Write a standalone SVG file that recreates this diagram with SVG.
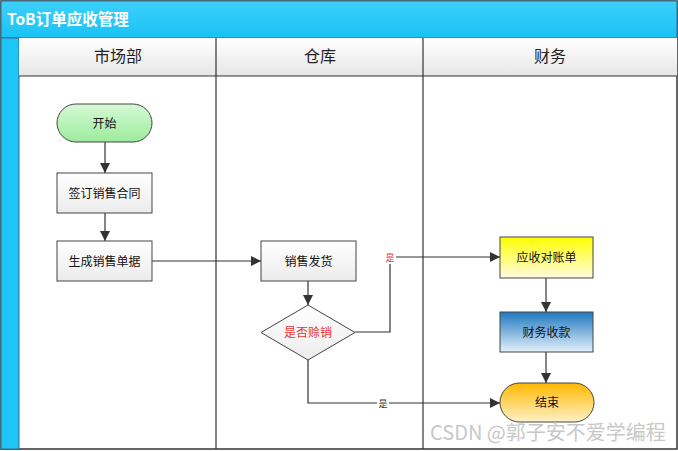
<svg xmlns="http://www.w3.org/2000/svg" width="678" height="451" viewBox="0 0 678 451">
<defs>
<linearGradient id="gTitle" x1="0" y1="0" x2="0" y2="1"><stop offset="0" stop-color="#3dd0fb"/><stop offset="1" stop-color="#19c2f5"/></linearGradient>
<linearGradient id="gHead" x1="0" y1="0" x2="0" y2="1"><stop offset="0" stop-color="#ffffff"/><stop offset="1" stop-color="#e6e6e6"/></linearGradient>
<linearGradient id="gBox" x1="0" y1="0" x2="0" y2="1"><stop offset="0" stop-color="#ffffff"/><stop offset="1" stop-color="#ebebeb"/></linearGradient>
<linearGradient id="gGreen" x1="0" y1="0" x2="0" y2="1"><stop offset="0" stop-color="#d6f9d6"/><stop offset="1" stop-color="#9ceb9c"/></linearGradient>
<linearGradient id="gYellow" x1="0" y1="0" x2="0" y2="1"><stop offset="0" stop-color="#ffff00"/><stop offset="1" stop-color="#fffbe0"/></linearGradient>
<linearGradient id="gBlue" x1="0" y1="0" x2="0" y2="1"><stop offset="0" stop-color="#1f78c0"/><stop offset="1" stop-color="#e4f0fa"/></linearGradient>
<linearGradient id="gOrange" x1="0" y1="0" x2="0" y2="1"><stop offset="0" stop-color="#ffb800"/><stop offset="1" stop-color="#fff2c8"/></linearGradient>
<linearGradient id="gDia" x1="0" y1="0" x2="0" y2="1"><stop offset="0" stop-color="#ffffff"/><stop offset="1" stop-color="#ececec"/></linearGradient>
<marker id="arr" viewBox="0 0 10 10" refX="10" refY="5" markerWidth="10" markerHeight="10" markerUnits="userSpaceOnUse" orient="auto"><path d="M0,0 L10,5 L0,10 Z" fill="#333"/></marker>
</defs>
<style>
text{font-family:"Noto Sans CJK SC","Liberation Sans",sans-serif;}
.hd{font-size:16px;fill:#222;text-anchor:middle;}
.lbl{font-size:12px;fill:#111;text-anchor:middle;}
.box{stroke:#444;stroke-width:1;}
.ln{fill:none;stroke:#333;stroke-width:1.2;}
.lane{stroke:#333;stroke-width:1.2;fill:none;}
</style>
<g id="pool">
<rect x="1" y="1" width="676" height="448" fill="#fff" stroke="#333" stroke-width="1.5"/>
<rect x="1" y="1" width="676" height="37" fill="url(#gTitle)" stroke="#2a6f8a" stroke-width="1"/>
<text x="7" y="25" style="font-size:15.5px;font-weight:bold;fill:#fff;">ToB订单应收管理</text>
<rect x="1" y="38" width="18" height="411" fill="#1ec6f7" stroke="#2a6f8a" stroke-width="1"/>
<rect x="19" y="38" width="658" height="38" fill="url(#gHead)"/>
<line class="lane" x1="19" y1="76" x2="677" y2="76"/>
<line class="lane" x1="216" y1="38" x2="216" y2="449"/>
<line class="lane" x1="423" y1="38" x2="423" y2="449"/>
<text class="hd" x="118" y="62">市场部</text>
<text class="hd" x="320" y="62">仓库</text>
<text class="hd" x="550" y="62">财务</text>
</g>
<g id="connectors">
<line class="ln" x1="105" y1="142" x2="105" y2="173" marker-end="url(#arr)"/>
<line class="ln" x1="105" y1="213" x2="105" y2="241" marker-end="url(#arr)"/>
<line class="ln" x1="152" y1="261" x2="261" y2="261" marker-end="url(#arr)"/>
<line class="ln" x1="308" y1="281" x2="308" y2="305" marker-end="url(#arr)"/>
<polyline class="ln" points="355,332 390,332 390,257 500,257" marker-end="url(#arr)"/>
<rect x="384" y="250" width="12" height="14" fill="#fff"/>
<text x="390" y="261" style="font-size:9px;fill:#e53333;text-anchor:middle;">是</text>
<polyline class="ln" points="308,360 308,403 500,403" marker-end="url(#arr)"/>
<rect x="377" y="396" width="12" height="14" fill="#fff"/>
<text x="383" y="407" style="font-size:9px;fill:#333;text-anchor:middle;">是</text>
<line class="ln" x1="546" y1="278" x2="546" y2="312" marker-end="url(#arr)"/>
<line class="ln" x1="546" y1="352" x2="546" y2="383" marker-end="url(#arr)"/>
</g>
<g id="n-start"><rect class="box" x="57" y="104" width="95" height="38" rx="19" fill="url(#gGreen)"/><text class="lbl" x="104.5" y="127.5">开始</text></g>
<g id="n-sign"><rect class="box" x="57" y="173" width="95" height="40" fill="url(#gBox)"/><text class="lbl" x="104.5" y="197.5">签订销售合同</text></g>
<g id="n-gen"><rect class="box" x="57" y="241" width="95" height="40" fill="url(#gBox)"/><text class="lbl" x="104.5" y="265.5">生成销售单据</text></g>
<g id="n-ship"><rect class="box" x="261" y="241" width="95" height="40" fill="url(#gBox)"/><text class="lbl" x="308.5" y="265.5">销售发货</text></g>
<g id="n-dec"><polygon class="box" points="308,305 355,332.5 308,360 261,332.5" fill="url(#gDia)"/><text x="308" y="337" style="font-size:12px;fill:#e53333;text-anchor:middle;">是否赊销</text></g>
<g id="n-ar"><rect class="box" x="500" y="237" width="93" height="41" fill="url(#gYellow)"/><text class="lbl" x="546.5" y="262">应收对账单</text></g>
<g id="n-pay"><rect class="box" x="500" y="312" width="93" height="40" fill="url(#gBlue)"/><text class="lbl" x="546.5" y="336.5">财务收款</text></g>
<g id="n-end"><rect class="box" x="500" y="383" width="94" height="39" rx="19.5" fill="url(#gOrange)"/><text class="lbl" x="547" y="407">结束</text></g>
<text x="430" y="440" style="font-size:20px;fill:#c8c8c8;">CSDN @郭子安不爱学编程</text>
</svg>
